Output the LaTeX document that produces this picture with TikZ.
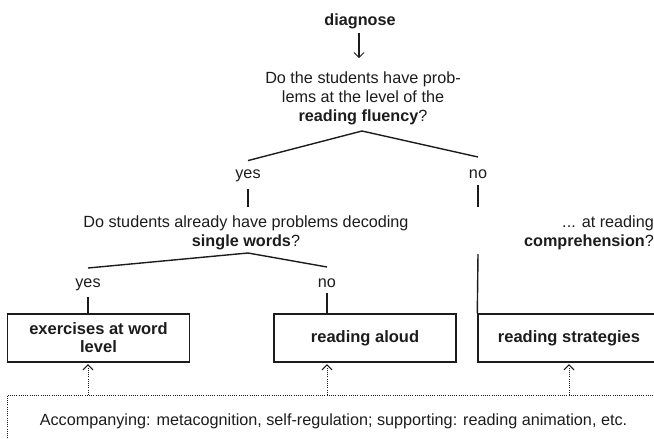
\documentclass[tikz,border=0pt]{standalone}
\usepackage{fontspec}
\setmainfont{Liberation Sans}
\usetikzlibrary{arrows.meta}
\definecolor{ink}{HTML}{1c1c1c}
\begin{document}
\begin{tikzpicture}[x=1pt,y=-1pt,
  txt/.style={font=\fontsize{16.2}{19}\selectfont, inner sep=0pt, align=center, text=ink},
  branch/.style={draw=ink, line width=1.4pt},
  box/.style={draw=ink, line width=1.4pt, minimum width=182pt, minimum height=48pt,
    inner sep=0pt, font=\fontsize{16.5}{18}\selectfont\bfseries, align=center, text=ink},
  dots/.style={draw=ink, dash pattern=on 1pt off 1.2pt, line width=1pt},
  tip/.style={-{Straight Barb[length=5pt,width=10pt,line width=1pt]}},
  ]
  \clip (0,0) rectangle (654,439);

  % question cascade
  \node[txt, anchor=base] (diag) at (360,25) {\bfseries diagnose};
  \node[txt] (q1) at (363,98) {Do the students have prob-\\lems at the level of the\\\textbf{reading fluency}?};
  \draw[draw=ink, line width=1.2pt, tip, shorten <=4.5pt, shorten >=13pt]
    (diag.south -| 359,0) -- (359,0 |- q1.north);

  \coordinate (apex1) at (362,131);
  \node[txt, anchor=base] (yes1) at (248,178) {yes};
  \node[txt, anchor=base] (no1)  at (478,178) {no};
  \draw[branch] (yes1.north) ++(0,-8.5) -- (apex1) -- (478,157);

  \node[txt] (q2) at (246,233) {Do students already have problems decoding\\\textbf{single words}?};
  \node[txt, align=right, anchor=east] (q3) at (654,233) {... at reading\\\textbf{comprehension}?};
  \draw[branch] (yes1.south) ++(0,7) -- (248,207);
  \draw[branch] (no1.south) ++(0,7) -- (478,207);

  \coordinate (apex2) at (248,253);
  \node[txt, anchor=base] (yes2) at (88,287) {yes};
  \node[txt, anchor=base] (no2)  at (327,287) {no};
  \draw[branch] (88,268) -- (apex2) -- (327,267);

  % outcome boxes
  \node[box] (b1) at (98.5,338) {exercises at word\\level};
  \node[box] (b2) at (365,338) {reading aloud};
  \node[box] (b3) at (569,338) {reading strategies};

  \draw[branch] (yes2.south) ++(0,6) -- (b1.north -| yes2);
  \draw[branch] (no2.south) ++(0,6) -- (b2.north -| no2);
  \draw[branch] (478,254) -- (b3.north west);

  % accompanying measures
  \coordinate (ftop) at (7,395);
  \draw[dots] (7,445) -- (ftop) -- (660,395);
  \node[txt, anchor=base] (acc) at (333.5,425) {Accompanying: metacognition, self-regulation; supporting: reading animation, etc.};
  \foreach \b/\x in {b1/88, b2/327, b3/569}
    \draw[dots, tip, shorten >=1.5pt] (\x,0 |- ftop) -- (\x,0 |- \b.south);
\end{tikzpicture}
\end{document}
